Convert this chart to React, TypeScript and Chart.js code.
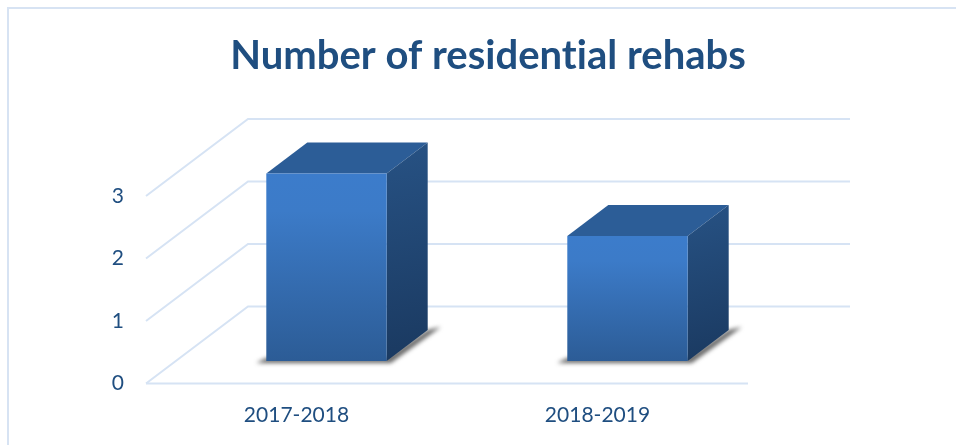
import React, { useEffect, useRef } from "react";
import { Chart, registerables } from "chart.js";

Chart.register(...registerables);

const categories = ["2017-2018", "2018-2019"];
const rehabs = [3, 2];
const yTicks = [0, 1, 2, 3];
const titleText = "Number of residential rehabs";

const BLUE_TEXT = "#1f4e80";
const GRID = "#d6e3f4";
const WALL = { dx: 102, dy: -77 };
const BAR_OFFSET = { dx: 30, dy: -22.5 };
const BAR_DEPTH = { dx: 41, dy: -31 };
const BACK_RIGHT = 850;

const scene3d = {
  id: "scene3d",
  afterLayout(chart: any) {
    // centre the title on the whole picture's content, not on the plot's box
    if (chart.titleBlock) {
      chart.titleBlock.left = 0;
      chart.titleBlock.right = 976;
    }
  },
  beforeDraw(chart: any) {
    // no "ti" ligature in the reference's text
    chart.ctx.letterSpacing = "0.01px";
  },
  beforeDatasetsDraw(chart: any) {
    const { ctx, chartArea, scales } = chart;
    ctx.save();
    ctx.strokeStyle = GRID;
    ctx.lineWidth = 2;
    yTicks.forEach((t, i) => {
      const y = scales.y.getPixelForValue(t);
      ctx.beginPath();
      ctx.moveTo(chartArea.left, y);
      ctx.lineTo(chartArea.left + WALL.dx, y + WALL.dy);
      ctx.lineTo(BACK_RIGHT, y + WALL.dy);
      ctx.stroke();
      if (i === 0) {
        ctx.beginPath();
        ctx.moveTo(chartArea.left, y);
        ctx.lineTo(chartArea.right, y);
        ctx.stroke();
      }
    });
    chart.getDatasetMeta(0).data.forEach((bar: any) => {
      const l = bar.x - bar.width / 2 + BAR_OFFSET.dx;
      const r = bar.x + bar.width / 2 + BAR_OFFSET.dx;
      const top = bar.y + BAR_OFFSET.dy;
      const bot = bar.base + BAR_OFFSET.dy;
      // floor shadow
      ctx.save();
      ctx.filter = "blur(2px)";
      ctx.fillStyle = "rgba(60,60,60,0.8)";
      ctx.beginPath();
      ctx.moveTo(l - 10, bot + 2);
      ctx.lineTo(l, bot - 3);
      ctx.lineTo(r, bot - 3);
      ctx.lineTo(r + BAR_DEPTH.dx, bot + BAR_DEPTH.dy);
      ctx.lineTo(r + BAR_DEPTH.dx + 13, bot + BAR_DEPTH.dy - 3);
      ctx.lineTo(r + 4, bot + 2);
      ctx.closePath();
      ctx.fill();
      ctx.restore();
      // top face
      ctx.fillStyle = "#2c5d97";
      ctx.beginPath();
      ctx.moveTo(l, top);
      ctx.lineTo(l + BAR_DEPTH.dx, top + BAR_DEPTH.dy);
      ctx.lineTo(r + BAR_DEPTH.dx, top + BAR_DEPTH.dy);
      ctx.lineTo(r, top);
      ctx.closePath();
      ctx.fill();
      // side face
      const g = ctx.createLinearGradient(r, top + BAR_DEPTH.dy, r + BAR_DEPTH.dx, bot);
      g.addColorStop(0, "#275284");
      g.addColorStop(1, "#1a3960");
      ctx.fillStyle = g;
      ctx.beginPath();
      ctx.moveTo(r, top);
      ctx.lineTo(r + BAR_DEPTH.dx, top + BAR_DEPTH.dy);
      ctx.lineTo(r + BAR_DEPTH.dx, bot + BAR_DEPTH.dy);
      ctx.lineTo(r, bot);
      ctx.closePath();
      ctx.fill();
    });
    ctx.restore();
    ctx.save();
    ctx.translate(BAR_OFFSET.dx, BAR_OFFSET.dy);
  },
  afterDatasetsDraw(chart: any) {
    chart.ctx.restore();
  },
};

export default function App() {
  const ref = useRef<HTMLCanvasElement>(null);
  useEffect(() => {
    const chart = new Chart(ref.current as HTMLCanvasElement, {
      type: "bar",
      plugins: [scene3d],
      data: {
        labels: categories,
        datasets: [
          {
            label: "Number of residential rehabs",
            data: rehabs,
            barPercentage: 0.4,
            categoryPercentage: 1,
            clip: false,
            backgroundColor: (c: any) => {
              const { ctx, scales } = c.chart;
              if (!scales.y || typeof c.raw !== "number") return "#3a74bc";
              const y0 = scales.y.getPixelForValue(c.raw);
              const y1 = scales.y.getPixelForValue(0);
              if (!Number.isFinite(y0) || !Number.isFinite(y1)) return "#3a74bc";
              const g = ctx.createLinearGradient(0, y0, 0, y1);
              g.addColorStop(0, "#3c7ccb");
              g.addColorStop(0.2, "#3c7bc8");
              g.addColorStop(1, "#2c5c96");
              return g;
            },
          } as any,
        ],
      },
      options: {
        animation: false,
        responsive: false,
        devicePixelRatio: 1,
        layout: { padding: { left: 0, right: 208, top: 0, bottom: 0 } },
        plugins: {
          legend: { display: false },
          tooltip: { enabled: false },
          title: {
            display: true,
            text: titleText,
            color: BLUE_TEXT,
            font: { family: "Lato", size: 40, weight: "bold" },
            padding: { top: 32, bottom: 116 },
          },
        },
        scales: {
          x: {
            grid: { display: false },
            border: { display: false },
            ticks: {
              color: BLUE_TEXT,
              font: { family: "Lato", size: 21 },
              padding: 11,
              maxRotation: 0,
            },
            afterFit: (s: any) => {
              s.height = 445 - 383.5;
            },
          },
          y: {
            min: 0,
            max: 3,
            grid: { display: false },
            border: { display: false },
            afterBuildTicks: (s: any) => {
              s.ticks = yTicks.map((value) => ({ value }));
            },
            ticks: {
              color: BLUE_TEXT,
              font: { family: "Lato", size: 21 },
              padding: 14,
            },
            afterFit: (s: any) => {
              s.width = 146;
            },
          },
        },
      } as any,
    });
    return () => chart.destroy();
  }, []);

  return (
    <div style={{ position: "absolute", left: 0, top: 0, width: 956, height: 445, background: "#fff", overflow: "hidden" }}>
      <div
        style={{
          position: "absolute",
          left: 7,
          top: 7,
          width: 960,
          height: 445,
          borderLeft: "2px solid #d7e3f3",
          borderTop: "2px solid #d7e3f3",
        }}
      />
      <canvas ref={ref} width={956} height={445} style={{ position: "absolute", left: 0, top: 0 }} />
    </div>
  );
}
